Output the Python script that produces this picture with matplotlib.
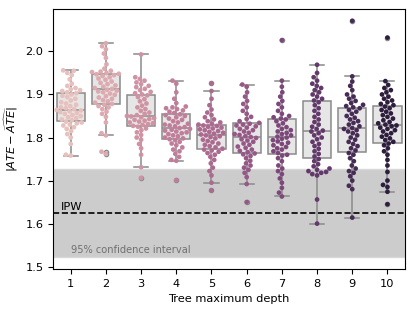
import numpy as np
import pandas as pd
import matplotlib
matplotlib.use("Agg")
import matplotlib.pyplot as plt
import seaborn as sns

# valeurs, une liste par profondeur
depths = [1, 2, 3, 4, 5, 6, 7, 8, 9, 10]
err_d1 = [1.758, 1.760, 1.785, 1.800, 1.808, 1.815, 1.820, 1.824, 1.828, 1.830, 1.833, 1.835,
          1.837, 1.840, 1.842, 1.845, 1.847, 1.850, 1.852, 1.855, 1.857, 1.859, 1.861, 1.863, 1.864,
          1.866, 1.868, 1.870, 1.873, 1.876, 1.879, 1.882, 1.886, 1.890, 1.894, 1.897, 1.900,
          1.903, 1.905, 1.908, 1.910, 1.912, 1.915, 1.920, 1.925, 1.935, 1.945, 1.950, 1.955, 1.956]
err_d2 = [1.762, 1.767, 1.805, 1.810, 1.835, 1.848, 1.855, 1.860, 1.866, 1.870, 1.873, 1.876,
          1.878, 1.881, 1.884, 1.887, 1.890, 1.893, 1.896, 1.899, 1.902, 1.905, 1.907, 1.909, 1.911,
          1.913, 1.915, 1.918, 1.921, 1.924, 1.927, 1.930, 1.934, 1.937, 1.940, 1.943, 1.945,
          1.947, 1.948, 1.950, 1.952, 1.953, 1.955, 1.960, 1.970, 1.985, 1.995, 2.005, 2.012, 2.019]
err_d3 = [1.706, 1.731, 1.760, 1.775, 1.785, 1.795, 1.800, 1.806, 1.812, 1.817, 1.821, 1.825,
          1.827, 1.829, 1.831, 1.833, 1.835, 1.837, 1.839, 1.841, 1.843, 1.845, 1.847, 1.849, 1.850,
          1.852, 1.855, 1.858, 1.862, 1.866, 1.870, 1.874, 1.879, 1.884, 1.889, 1.894, 1.898,
          1.900, 1.903, 1.906, 1.910, 1.913, 1.917, 1.920, 1.924, 1.928, 1.932, 1.936, 1.940, 1.993]
err_d4 = [1.701, 1.746, 1.748, 1.755, 1.762, 1.768, 1.772, 1.777, 1.782, 1.786, 1.790, 1.794,
          1.796, 1.798, 1.800, 1.803, 1.805, 1.808, 1.810, 1.812, 1.814, 1.816, 1.818, 1.820, 1.822,
          1.824, 1.826, 1.828, 1.830, 1.832, 1.835, 1.838, 1.841, 1.844, 1.847, 1.850, 1.852,
          1.854, 1.857, 1.860, 1.863, 1.866, 1.868, 1.870, 1.872, 1.880, 1.890, 1.905, 1.925, 1.932]
err_d5 = [1.677, 1.695, 1.712, 1.722, 1.730, 1.740, 1.748, 1.755, 1.760, 1.764, 1.767, 1.770,
          1.772, 1.774, 1.777, 1.780, 1.783, 1.786, 1.789, 1.792, 1.795, 1.798, 1.801, 1.803, 1.805,
          1.807, 1.809, 1.811, 1.813, 1.815, 1.817, 1.819, 1.821, 1.823, 1.825, 1.827, 1.828,
          1.830, 1.832, 1.835, 1.838, 1.842, 1.847, 1.852, 1.858, 1.865, 1.875, 1.890, 1.908, 1.926]
err_d6 = [1.650, 1.692, 1.708, 1.718, 1.725, 1.730, 1.735, 1.740, 1.746, 1.752, 1.757, 1.761,
          1.763, 1.766, 1.769, 1.772, 1.776, 1.779, 1.783, 1.786, 1.790, 1.793, 1.796, 1.799, 1.801,
          1.803, 1.806, 1.808, 1.811, 1.814, 1.817, 1.820, 1.823, 1.826, 1.828, 1.830, 1.832,
          1.834, 1.838, 1.843, 1.848, 1.855, 1.862, 1.870, 1.878, 1.885, 1.895, 1.905, 1.918, 1.923]
err_d7 = [1.663, 1.672, 1.683, 1.695, 1.705, 1.715, 1.722, 1.728, 1.735, 1.745, 1.752, 1.758,
          1.760, 1.764, 1.768, 1.772, 1.775, 1.778, 1.782, 1.785, 1.788, 1.791, 1.794, 1.797, 1.800,
          1.802, 1.805, 1.808, 1.811, 1.814, 1.817, 1.820, 1.824, 1.828, 1.833, 1.838, 1.842,
          1.844, 1.847, 1.850, 1.855, 1.862, 1.870, 1.878, 1.885, 1.895, 1.905, 1.918, 1.932, 2.026]
err_d8 = [1.600, 1.656, 1.712, 1.715, 1.718, 1.720, 1.722, 1.725, 1.728, 1.733, 1.738, 1.745,
          1.750, 1.756, 1.762, 1.768, 1.774, 1.780, 1.785, 1.790, 1.796, 1.800, 1.805, 1.810, 1.814,
          1.816, 1.820, 1.825, 1.830, 1.836, 1.842, 1.848, 1.855, 1.862, 1.868, 1.875, 1.882,
          1.886, 1.890, 1.895, 1.900, 1.905, 1.910, 1.915, 1.920, 1.925, 1.932, 1.940, 1.950, 1.969]
err_d9 = [1.614, 1.680, 1.688, 1.700, 1.710, 1.718, 1.722, 1.728, 1.735, 1.745, 1.752, 1.760,
          1.764, 1.770, 1.775, 1.780, 1.785, 1.790, 1.795, 1.800, 1.805, 1.810, 1.814, 1.817, 1.820,
          1.822, 1.826, 1.830, 1.834, 1.838, 1.842, 1.846, 1.850, 1.855, 1.860, 1.864, 1.868,
          1.870, 1.873, 1.876, 1.880, 1.885, 1.890, 1.895, 1.900, 1.910, 1.920, 1.930, 1.942, 2.071]
err_d10 = [1.645, 1.674, 1.685, 1.690, 1.700, 1.720, 1.735, 1.748, 1.760, 1.768, 1.775, 1.782,
           1.786, 1.790, 1.794, 1.798, 1.802, 1.806, 1.810, 1.814, 1.817, 1.820, 1.823, 1.826, 1.828,
           1.830, 1.833, 1.836, 1.840, 1.844, 1.848, 1.852, 1.856, 1.860, 1.864, 1.868, 1.872,
           1.875, 1.878, 1.882, 1.886, 1.890, 1.895, 1.900, 1.905, 1.910, 1.915, 1.922, 1.931, 2.032]

# IPW et son intervalle de confiance
ipw = 1.625
ci_low, ci_high = 1.522, 1.728

all_err = [err_d1, err_d2, err_d3, err_d4, err_d5, err_d6, err_d7, err_d8, err_d9, err_d10]
df = pd.DataFrame({
    "depth": np.repeat(depths, [len(e) for e in all_err]),
    "err": np.concatenate(all_err),
})

plt.rcParams["font.size"] = 8.2
fig = plt.figure(figsize=(4.15, 3.11), dpi=100)
ax = fig.add_axes([0.128, 0.135, 0.848, 0.836])

ax.axhspan(ci_low, ci_high, facecolor="#cccccc", edgecolor="#d8d8d8", lw=1, zorder=0)
ax.axhline(ipw, color="black", ls="--", lw=1.2, zorder=1)

sns.boxplot(data=df, x="depth", y="err", color=".9", linecolor="#8a8a8a",
            linewidth=1.1, fliersize=3, ax=ax, zorder=2)
sns.swarmplot(data=df, x="depth", y="err", hue="depth",
              palette=sns.cubehelix_palette(10, light=0.8), size=3.4, legend=False,
              ax=ax, zorder=3)

ax.text(-0.27, ipw + 0.003, "IPW", color="black", fontsize=8.2, ha="left", va="bottom")
ax.text(0, ci_low + 0.004, "95% confidence interval", color="#707070", fontsize=7.1,
        ha="left", va="bottom")

ax.set_xlabel("Tree maximum depth")
ax.set_ylabel(r"$|ATE - \widehat{ATE}|$")
ax.set_yticks([1.5, 1.6, 1.7, 1.8, 1.9, 2.0])

fig.savefig("out.png", dpi=100)
